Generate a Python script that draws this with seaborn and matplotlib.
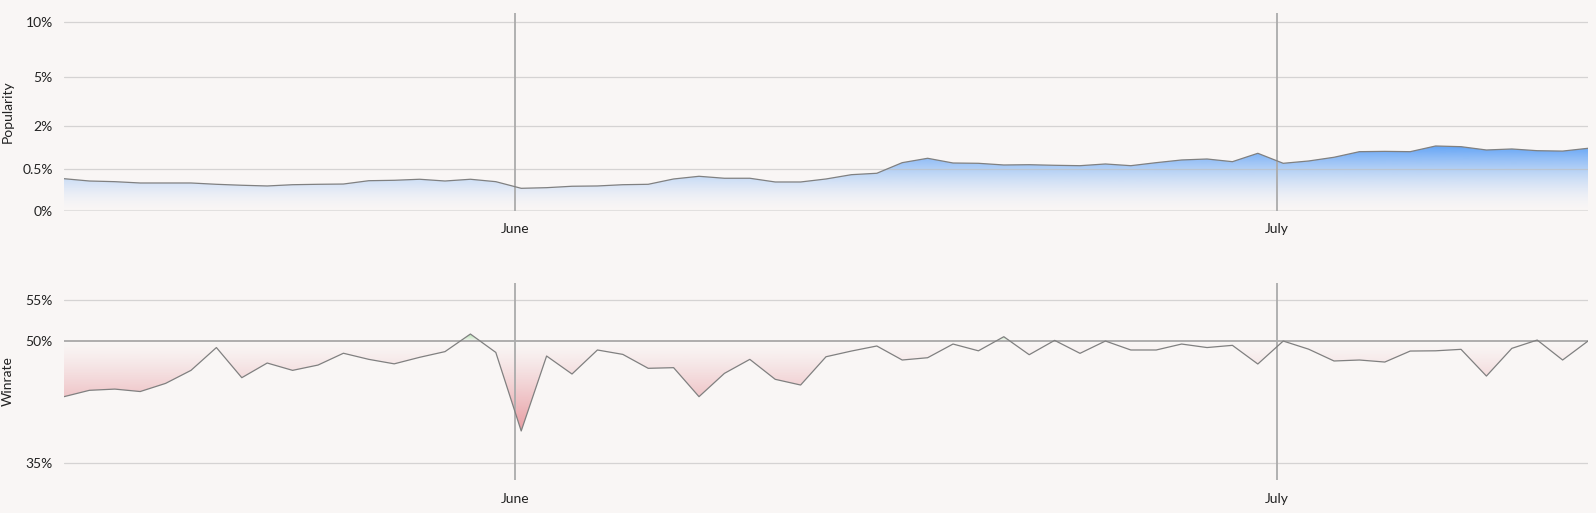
import numpy as np
import pandas as pd
import matplotlib.pyplot as plt
import matplotlib.colors as mcolors
import seaborn as sns

# daily values, 14 May -> 13 July
start_date = "2024-05-14 06:00"
popularity = [0.288, 0.248, 0.237, 0.216, 0.216, 0.216, 0.196, 0.182, 0.172, 0.190,
              0.196, 0.200, 0.253, 0.260, 0.278, 0.248, 0.278, 0.237, 0.141, 0.149,
              0.168, 0.172, 0.190, 0.196, 0.283, 0.333, 0.296, 0.296, 0.232, 0.232,
              0.283, 0.365, 0.394, 0.649, 0.773, 0.640, 0.632, 0.588, 0.595, 0.580,
              0.570, 0.614, 0.570, 0.649, 0.724, 0.752, 0.676, 0.927, 0.632, 0.695,
              0.803, 0.980, 0.990, 0.980, 1.178, 1.153, 1.037, 1.072, 1.013, 1.000,
              1.096]
winrate = [43.17, 43.95, 44.10, 43.80, 44.80, 46.40, 49.20, 45.50, 47.30, 46.40,
           47.05, 48.50, 47.75, 47.20, 48.00, 48.70, 50.86, 48.60, 38.96, 48.16,
           45.95, 48.90, 48.36, 46.65, 46.73, 43.17, 46.03, 47.75, 45.30, 44.60,
           48.07, 48.77, 49.39, 47.67, 47.95, 49.63, 48.80, 50.53, 48.32, 50.08,
           48.49, 50.00, 48.90, 48.90, 49.63, 49.20, 49.47, 47.18, 50.00, 49.00,
           47.55, 47.67, 47.42, 48.77, 48.80, 48.98, 45.70, 49.10, 50.12, 47.67,
           50.00]

month_marks = ["2024-06-01", "2024-07-01"]
month_labels = ["June", "July"]
pop_ticks = [0, 0.5, 2, 5, 10]
pop_labels = ["0%", "0.5%", "2%", "5%", "10%"]
wr_ticks = [35, 50, 55]
wr_labels = ["35%", "50%", "55%"]

bg = "#f9f6f5"
line_col = "#808080"

sns.set_theme(style="white", rc={"axes.facecolor": bg, "figure.facecolor": bg})
plt.rcParams["font.family"] = ["Lato", "DejaVu Sans"]

dates = pd.date_range(start_date, periods=len(popularity), freq="D")
df = pd.DataFrame({"date": dates, "popularity": popularity, "winrate": winrate})
months = pd.to_datetime(month_marks)


def gradient_image(ax, rgba, clip):
    im = ax.imshow(rgba, origin="lower", extent=(0, 1, 0, 1), transform=ax.transAxes,
                   aspect="auto", interpolation="bilinear", zorder=1)
    im.set_clip_path(clip.get_paths()[0], clip.get_transform())


fig = plt.figure(figsize=(15.96, 5.13), dpi=100)
ax1 = fig.add_axes([0.0401, 0.5893, 0.9549, 0.3854])
ax2 = fig.add_axes([0.0401, 0.0643, 0.9549, 0.3840])

# ---- popularity (sqrt scale)
ax1.set_yscale("function", functions=(lambda v: np.sqrt(np.clip(v, 0, None)), np.square))
ax1.set_ylim(0, 11)
sns.lineplot(data=df, x="date", y="popularity", ax=ax1, color=line_col, lw=0.9, zorder=4)
poly = ax1.fill_between(df["date"], df["popularity"], 0, color="none", lw=0)

n = 400
f = np.linspace(0, 1, n)
blue = np.array(mcolors.to_rgb("#5ba0f7"))
alpha = np.clip(f / 0.33, 0, 1) ** 1.7 * 0.95
rgba = np.zeros((n, 1, 4))
rgba[:, 0, :3] = blue
rgba[:, 0, 3] = alpha
gradient_image(ax1, rgba, poly)

for t in pop_ticks:
    if t == 0:
        ax1.axhline(t, color="#e2e0df", lw=2.2, zorder=2)
    else:
        ax1.axhline(t, color="#bdbdbd", lw=0.9, alpha=0.6, zorder=2)
ax1.set_yticks(pop_ticks, pop_labels)

# ---- winrate
ax2.set_ylim(32.94, 57.12)
sns.lineplot(data=df, x="date", y="winrate", ax=ax2, color=line_col, lw=0.9, zorder=4)
poly2 = ax2.fill_between(df["date"], df["winrate"], 50, color="none", lw=0)

f50 = (50 - 32.94) / (57.12 - 32.94)
red = np.array(mcolors.to_rgb("#d9535f"))
green = np.array(mcolors.to_rgb("#5cc85c"))
rgba2 = np.zeros((n, 1, 4))
below = f < f50
rgba2[below, 0, :3] = red
rgba2[below, 0, 3] = np.clip((f50 - f[below]) / 0.45, 0, 1) ** 1.3 * 0.55
rgba2[~below, 0, :3] = green
rgba2[~below, 0, 3] = np.clip((f[~below] - f50) / 0.04, 0, 1) * 0.5
gradient_image(ax2, rgba2, poly2)

for t in wr_ticks:
    if t == 50:
        ax2.axhline(t, color="#9a9a9a", lw=1.1, zorder=3)
    else:
        ax2.axhline(t, color="#bdbdbd", lw=0.9, alpha=0.6, zorder=2)
ax2.set_yticks(wr_ticks, wr_labels)

for ax, lab in [(ax1, "Popularity"), (ax2, "Winrate")]:
    ax.set_xlim(dates[0], dates[-1])
    for m in months:
        ax.axvline(m, color="#ababab", lw=1.3, zorder=3)
    ax.set_xticks(months, month_labels)
    ax.set_xlabel("")
    ax.set_ylabel(lab, fontsize=10, color="#222222")
    ax.yaxis.set_label_coords(-0.033, 0.5)
    ax.tick_params(axis="both", length=0, labelsize=10, colors="#222222")
    ax.tick_params(axis="y", pad=8)
    ax.tick_params(axis="x", pad=9)
    ax.grid(False)
    sns.despine(ax=ax, left=True, bottom=True)

fig.savefig("out.png", dpi=100, facecolor=bg)
